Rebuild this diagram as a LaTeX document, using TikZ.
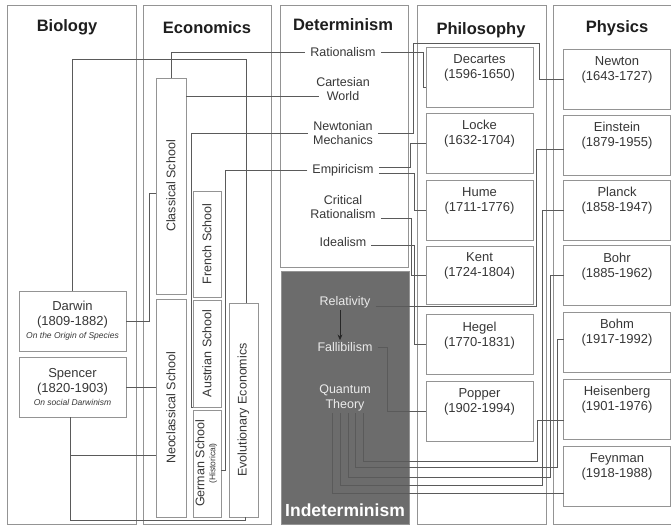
\documentclass[tikz,border=0pt]{standalone}
\usepackage{fontspec}
\setmainfont{Liberation Sans}
\usepackage{graphicx}
\usepackage{xcolor}
\usetikzlibrary{positioning,arrows.meta}
\definecolor{framegray}{RGB}{148,148,148}
\definecolor{linkgray}{RGB}{90,90,90}
\definecolor{textgray}{RGB}{55,55,55}
\definecolor{headgray}{RGB}{30,30,30}
\definecolor{indetgray}{RGB}{108,108,108}
\tikzset{
  panel/.style={draw=framegray, line width=0.9pt, inner sep=0pt, outer sep=0pt},
  heading/.style={font=\fontsize{16.5}{18}\selectfont\bfseries, text=headgray},
  person/.style={draw=framegray, line width=0.9pt, fill=white, align=center, minimum width=107pt, minimum height=60pt, inner sep=0pt, outer sep=0pt, font=\fontsize{13}{15}\selectfont, text=textgray},
  school/.style={draw=framegray, line width=0.9pt, fill=white, inner sep=0pt, outer sep=0pt, font=\fontsize{12.5}{14}\selectfont, text=textgray},
  idea/.style={align=center, inner xsep=5pt, inner ysep=2pt, font=\fontsize{12.5}{14.5}\selectfont, text=textgray},
  link/.style={draw=linkgray, line width=0.75pt},
  arr/.style={-{Stealth[length=2mm,width=1.7mm]}, line width=0.8pt, draw=black!85},
}
\newcommand{\lifespan}[2]{#1\\#2\\[6pt]\mbox{}}

\begin{document}
\begin{tikzpicture}[x=1pt,y=-1pt]
  \useasboundingbox (0,0) rectangle (671,527);
  \fill[white] (0,0) rectangle (671,527);

  % columns
  \node[panel, minimum width=129pt, minimum height=519pt] (biopanel) at (71.5,264.5) {};
  \node[panel, minimum width=128pt, minimum height=519pt] (ecopanel) at (207,264.5) {};
  \node[panel, minimum width=128pt, minimum height=262pt] (detpanel) at (344,136) {};
  \node[panel, fill=indetgray, minimum width=128pt, minimum height=253pt] (indetpanel) at (345,397.5) {};
  \node[panel, minimum width=129pt, minimum height=519pt] (philpanel) at (481.5,264.5) {};
  \node[panel, minimum width=137pt, minimum height=519pt] (physpanel) at (621.5,264.5) {};

  \node[heading] (bio) at (67,27) {Biology};
  \node[heading] (eco) at (207,28) {Economics};
  \node[heading] (det) at (343,25) {Determinism};
  \node[heading] (phil) at (481,30) {Philosophy};
  \node[heading] (phys) at (617,28) {Physics};
  \node[heading, text=white, font=\fontsize{17.5}{19}\selectfont\bfseries] (indet) at (345,510) {Indeterminism};

  % biology
  \node[person] (darwin) at (72.5,321) {Darwin\\(1809-1882)\\[-2pt]{\fontsize{8.5}{10}\selectfont\itshape On the Origin of Species}};
  \node[person] (spencer) at (72.5,387) {Spencer\\(1820-1903)\\[-2pt]{\fontsize{8.5}{10}\selectfont\itshape On social Darwinism}};

  % economics
  \node[school, minimum width=30pt, minimum height=216pt] (classical) at (171,186) {\rotatebox{90}{Classical School}};
  \node[school, minimum width=30pt, minimum height=218pt] (neoclassical) at (171,408) {\rotatebox{90}{Neoclassical School}};
  \node[school, minimum width=28pt, minimum height=106pt] (french) at (207,244) {\rotatebox{90}{French School}};
  \node[school, minimum width=28pt, minimum height=107pt] (austrian) at (207,353.5) {\rotatebox{90}{Austrian School}};
  \node[school, minimum width=28pt, minimum height=107pt] (german) at (207,463.5)
    {\rotatebox{90}{\begin{tabular}{@{}c@{}}German School\\[-3pt]\fontsize{8.5}{9}\selectfont(Historical)\end{tabular}}};
  \node[school, minimum width=29pt, minimum height=214pt] (evolutionary) at (243.5,410) {\rotatebox{90}{Evolutionary Economics}};

  % determinism / indeterminism
  \node[idea] (rationalism) at (343,52) {Rationalism};
  \node[idea] (cartesian) at (343,89) {Cartesian\\World};
  \node[idea] (newtonian) at (343,133) {Newtonian\\Mechanics};
  \node[idea] (empiricism) at (343,170) {Empiricism};
  \node[idea] (critical) at (343,207) {Critical\\Rationalism};
  \node[idea] (idealism) at (343,242) {Idealism};
  \node[idea, text=white!92!black] (relativity) at (345,302) {Relativity};
  \node[idea, text=white!92!black] (fallibilism) at (345,347) {Fallibilism};
  \node[idea, text=white!92!black] (quantum) at (345,398) {Quantum\\Theory};

  % philosophy
  \node[person] (decartes) at (479.5,77) {\lifespan{Decartes}{(1596-1650)}};
  \node[person] (locke) at (479.5,143) {\lifespan{Locke}{(1632-1704)}};
  \node[person] (hume) at (479.5,210) {\lifespan{Hume}{(1711-1776)}};
  \node[person, minimum height=58pt] (kent) at (479.5,275) {\lifespan{Kent}{(1724-1804)}};
  \node[person] (hegel) at (479.5,344.5) {\lifespan{Hegel}{(1770-1831)}};
  \node[person] (popper) at (479.5,411.5) {\lifespan{Popper}{(1902-1994)}};

  % physics
  \node[person] (newton) at (617,79) {\lifespan{Newton}{(1643-1727)}};
  \node[person] (einstein) at (617,145) {\lifespan{Einstein}{(1879-1955)}};
  \node[person] (planck) at (617,210) {\lifespan{Planck}{(1858-1947)}};
  \node[person] (bohr) at (617,275.5) {\lifespan{Bohr}{(1885-1962)}};
  \node[person] (bohm) at (617,342) {\lifespan{Bohm}{(1917-1992)}};
  \node[person] (heisenberg) at (617,409) {\lifespan{Heisenberg}{(1901-1976)}};
  \node[person] (feynman) at (617,476.5) {\lifespan{Feynman}{(1918-1988)}};

  % links
  \draw[link] (darwin.north) |- (246,59) -- ([xshift=2.5pt]evolutionary.north);
  \draw[link] (darwin.east) -| (149,193) -- (classical.west |- 149,193);
  \draw[link] (spencer.east) -- (neoclassical.west |- spencer.east);
  \draw[link] ([xshift=-2pt]spencer.south) |- (neoclassical.west |- 0,455);
  \draw[link] ([xshift=-2pt]spencer.south) |- (245,520) -- ([xshift=1.5pt]evolutionary.south);
  \draw[link] (classical.north) |- (rationalism.west);
  \draw[link] (classical.east |- 0,96) -- ([xshift=-24pt,yshift=-7pt]cartesian.center);
  \draw[link] (newtonian.west) -| (191,407) -- (austrian.south west);
  \draw[link] (empiricism.west) -| (225,470) -- (german.east |- 225,470);

  \draw[link] (rationalism.east) -| (423,87) -- ([yshift=-10pt]decartes.west);
  \draw[link] (newtonian.east) -| (413,43) -| (539,79) -- (newton.west);
  \draw[link] ([yshift=3pt]empiricism.east) -| (410,143) -- (locke.west);
  \draw[link] ([yshift=-3pt]empiricism.east) -| (414,210) -- (hume.west);
  \draw[link] ([yshift=-11pt]critical.east) -| (411,275) -- (kent.west);
  \draw[link] ([yshift=-3pt]idealism.east) -| (414,344.5) -- (hegel.west);

  \draw[link] ([yshift=-4pt]relativity.east) -| (536,149) -- ([yshift=-4pt]einstein.west);
  \draw[link] (fallibilism.east) -- ++(10,0) |- (popper.west);
  \draw[arr] ([xshift=-5pt]relativity.south) -- ([xshift=-5pt]fallibilism.north);
  \draw[link] ([xshift=18pt]quantum.south) |- (537,461) |- ([yshift=-11pt]heisenberg.west);
  \draw[link] ([xshift=10pt]quantum.south) |- (557,467) |- ([yshift=3pt]bohm.west);
  \draw[link] ([xshift=3pt]quantum.south) |- (550,477) |- (bohr.west);
  \draw[link] ([xshift=-5pt]quantum.south) |- (542,485) |- (planck.west);
  \draw[link] ([xshift=-13pt]quantum.south) |- ([yshift=-16.5pt]feynman.west);
\end{tikzpicture}
\end{document}
